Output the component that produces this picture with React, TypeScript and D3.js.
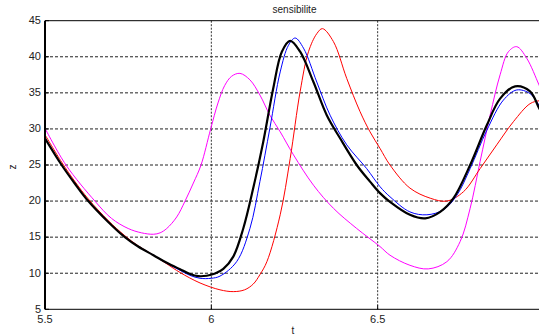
import React from "react";
import * as d3 from "d3";

const title = "sensibilite";
const xLabel = "t";
const yLabel = "z";
const xTicks = [5.5, 6, 6.5];
const yTicks = [5, 10, 15, 20, 25, 30, 35, 40, 45];

const blackT = [5.5, 5.55, 5.59, 5.63, 5.69, 5.74, 5.78, 5.826, 5.866, 5.906, 5.936, 5.961, 5.986, 6.011, 6.036, 6.066, 6.096, 6.126, 6.156, 6.186, 6.212, 6.237, 6.267, 6.307, 6.347, 6.387, 6.437, 6.477, 6.507, 6.537, 6.597, 6.643, 6.688, 6.728, 6.778, 6.828, 6.868, 6.913, 6.958, 6.985, 7.0];
const blackZ = [28.7, 25.0, 22.4, 20.0, 17.1, 15.0, 13.7, 12.5, 11.45, 10.55, 9.9, 9.6, 9.65, 9.95, 10.6, 12.3, 16.2, 21.8, 28.2, 35.6, 40.7, 42.2, 40.7, 36.5, 31.9, 28.7, 25.0, 22.7, 21.1, 19.9, 18.1, 17.6, 18.5, 20.4, 25.0, 30.5, 34.2, 35.9, 35.2, 32.9, 31.6];

const blueT = [5.5, 5.55, 5.59, 5.63, 5.69, 5.74, 5.78, 5.826, 5.866, 5.906, 5.936, 5.966, 6.0, 6.026, 6.076, 6.116, 6.146, 6.176, 6.207, 6.232, 6.252, 6.277, 6.317, 6.357, 6.407, 6.467, 6.507, 6.537, 6.597, 6.648, 6.698, 6.738, 6.778, 6.828, 6.878, 6.918, 6.958, 6.985, 7.0];
const blueZ = [28.7, 25.0, 22.4, 20.0, 17.1, 15.0, 13.7, 12.5, 11.4, 10.4, 9.7, 9.3, 9.3, 9.6, 11.6, 16.2, 22.7, 30.1, 37.9, 41.6, 42.6, 41.2, 36.5, 31.9, 27.8, 24.5, 22.0, 20.6, 18.5, 18.1, 18.8, 20.8, 24.5, 29.8, 34.0, 35.4, 34.9, 33.3, 32.3];

const redT = [5.5, 5.55, 5.59, 5.63, 5.69, 5.74, 5.78, 5.826, 5.866, 5.906, 5.966, 6.026, 6.066, 6.1, 6.126, 6.146, 6.167, 6.207, 6.237, 6.267, 6.292, 6.317, 6.334, 6.367, 6.407, 6.447, 6.477, 6.507, 6.537, 6.597, 6.658, 6.708, 6.758, 6.808, 6.858, 6.908, 6.958, 6.985, 7.0];
const redZ = [29.2, 25.4, 22.7, 20.3, 17.3, 15.2, 13.8, 12.5, 11.3, 10.1, 8.65, 7.7, 7.45, 7.7, 8.5, 9.8, 11.6, 18.1, 25.9, 35.2, 40.7, 43.2, 43.9, 42.1, 37.0, 32.4, 29.6, 27.3, 25.0, 21.8, 20.4, 20.0, 21.3, 24.5, 27.8, 31.0, 33.5, 33.9, 33.9];

const magT = [5.5, 5.563, 5.65, 5.70, 5.75, 5.79, 5.826, 5.846, 5.866, 5.896, 5.921, 5.946, 5.969, 5.998, 6.02, 6.04, 6.061, 6.086, 6.116, 6.146, 6.176, 6.207, 6.247, 6.307, 6.367, 6.437, 6.507, 6.537, 6.597, 6.652, 6.708, 6.748, 6.778, 6.808, 6.838, 6.868, 6.893, 6.918, 6.948, 6.985, 7.0];
const magZ = [30.1, 25.0, 20.0, 17.6, 16.2, 15.6, 15.4, 15.6, 16.2, 17.8, 20.0, 22.5, 25.0, 30.0, 33.6, 36.0, 37.3, 37.7, 36.8, 34.7, 31.9, 29.6, 26.4, 22.2, 19.0, 16.2, 13.7, 12.5, 11.1, 10.6, 11.6, 14.4, 19.0, 25.5, 31.9, 37.5, 40.7, 41.4, 39.8, 36.1, 34.5];

const series = [
  { t: magT, z: magZ, color: "#ff00ff", w: 1 },
  { t: redT, z: redZ, color: "#ff0000", w: 1 },
  { t: blueT, z: blueZ, color: "#0000ff", w: 1 },
  { t: blackT, z: blackZ, color: "#000000", w: 2.2 },
];

export default function App() {
  const W = 539, H = 336;
  const left = 45, right = 544, top = 20.7, bottom = 309.3;
  const x = d3.scaleLinear().domain([5.5, 7]).range([left, right]);
  const y = d3.scaleLinear().domain([5, 45]).range([bottom, top]);
  const line = d3
    .line<[number, number]>()
    .x((d) => x(d[0]))
    .y((d) => y(d[1]))
    .curve(d3.curveCatmullRom.alpha(0.5));
  const font = "'Liberation Sans', Arial, sans-serif";
  return (
    <svg width={W} height={H} style={{ position: "absolute", left: 0, top: 0, background: "#fff" }} fontFamily={font}>
      <defs>
        <clipPath id="plot">
          <rect x={left} y={top} width={right - left} height={bottom - top} />
        </clipPath>
      </defs>
      <rect x={0} y={0} width={W} height={H} fill="#fff" />
      {yTicks.filter((v) => v > 5 && v < 45).map((v) => (
        <line key={"gy" + v} x1={left} x2={right} y1={y(v)} y2={y(v)} stroke="#222" strokeWidth={1} strokeDasharray="3,2" />
      ))}
      {xTicks.filter((v) => v > 5.5).map((v) => (
        <line key={"gx" + v} x1={x(v)} x2={x(v)} y1={top} y2={bottom} stroke="#333" strokeWidth={1} strokeDasharray="2,1.5" />
      ))}
      <g clipPath="url(#plot)">
        {series.map((s, i) => (
          <path
            key={i}
            d={line(s.t.map((t, j) => [t, s.z[j]] as [number, number])) || ""}
            fill="none"
            stroke={s.color}
            strokeWidth={s.w}
          />
        ))}
      </g>
      <line x1={left} x2={right} y1={top} y2={top} stroke="#000" strokeWidth={1} />
      <line x1={left} x2={right} y1={bottom} y2={bottom} stroke="#000" strokeWidth={1} />
      <line x1={left} x2={left} y1={top} y2={bottom} stroke="#000" strokeWidth={2} />
      {yTicks.map((v) => (
        <g key={"ty" + v}>
          <line x1={left} x2={left + 4} y1={y(v)} y2={y(v)} stroke="#000" strokeWidth={1} />
          <text x={left - 4} y={y(v)} dy="0.3em" textAnchor="end" fontSize={11} fill="#222">
            {v}
          </text>
        </g>
      ))}
      {xTicks.map((v) => (
        <g key={"tx" + v}>
          <line x1={x(v)} x2={x(v)} y1={bottom} y2={bottom - 4} stroke="#000" strokeWidth={1} />
          <text x={x(v)} y={bottom + 13.5} textAnchor="middle" fontSize={11} fill="#222">
            {v}
          </text>
        </g>
      ))}
      <text x={(left + right) / 2} y={13} textAnchor="middle" fontSize={10} fill="#222">
        {title}
      </text>
      <text x={293} y={334} textAnchor="middle" fontSize={10} fill="#222">
        {xLabel}
      </text>
      <text transform={`translate(16,167) rotate(-90)`} textAnchor="middle" fontSize={10} fill="#222">
        {yLabel}
      </text>
    </svg>
  );
}
